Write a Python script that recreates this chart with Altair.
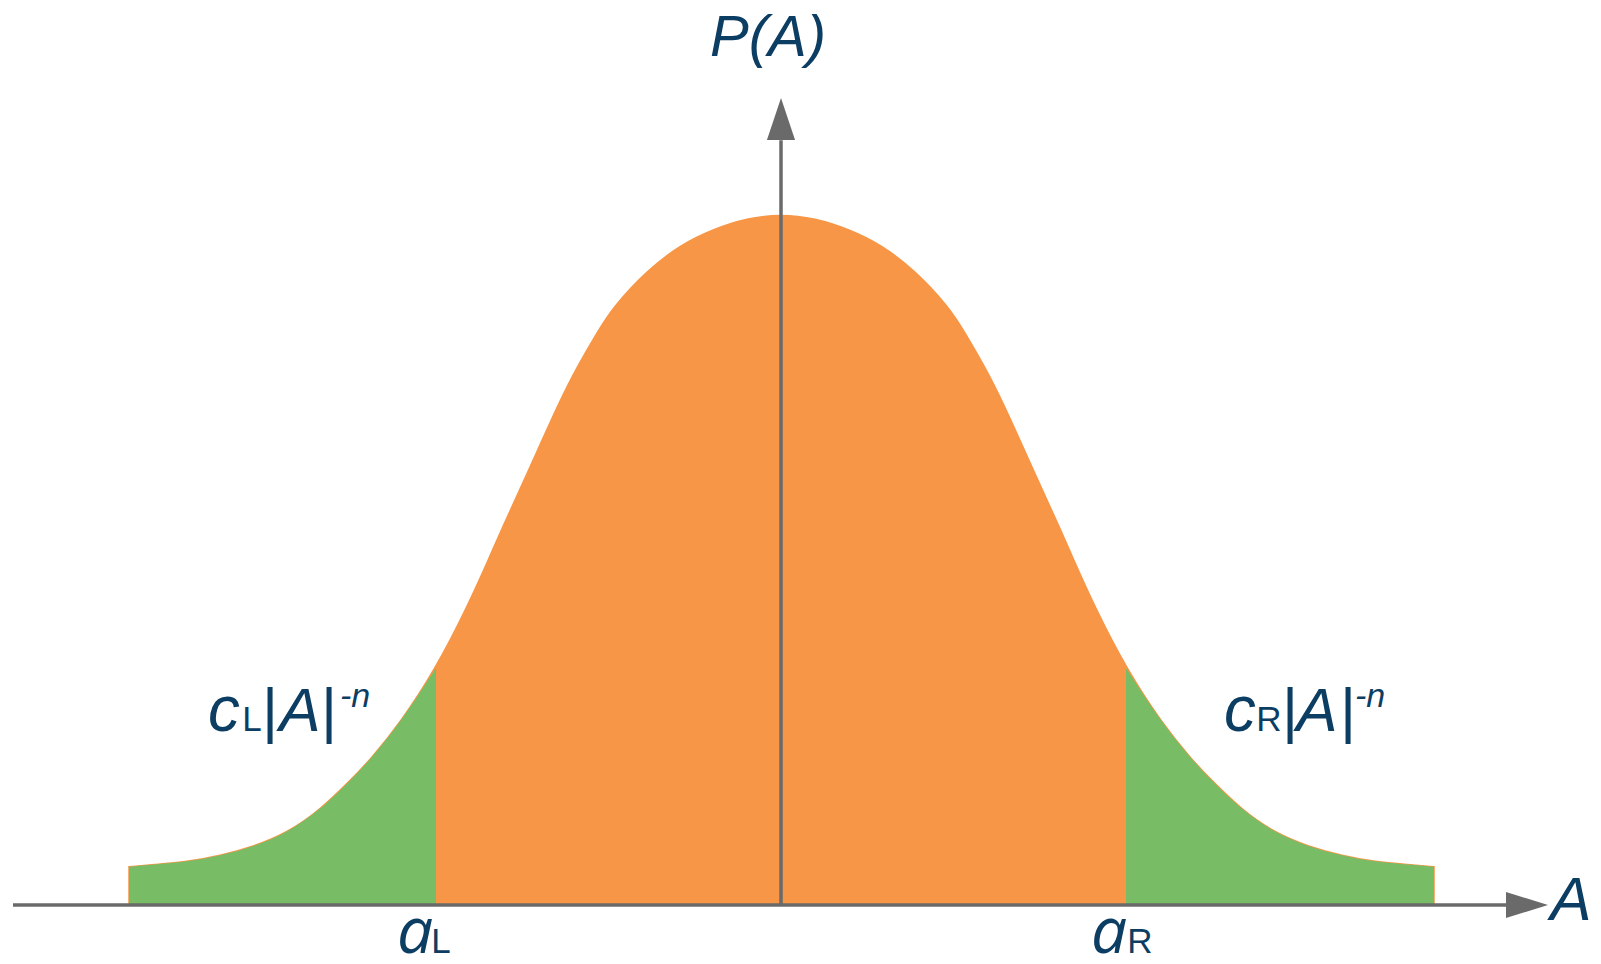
import altair as alt
import pandas as pd

# ---- data (A in arbitrary units, P normalised to peak = 1)
A_vals = [-6.52, -6.28, -5.94, -5.61, -5.28, -4.94, -4.61, -4.28, -4.11, -3.81,
          -3.45, -3.14, -2.92, -2.81, -2.51, -2.21, -2.04, -1.84, -1.68, -1.34,
          -1.01, -0.68, -0.34, 0.0,
          0.34, 0.68, 1.01, 1.34, 1.68, 1.84, 2.04, 2.21, 2.51, 2.81,
          2.92, 3.14, 3.45, 3.81, 4.11, 4.28, 4.61, 4.94, 5.28, 5.61,
          5.94, 6.28, 6.53]
P_vals = [0.054, 0.057, 0.061, 0.070, 0.083, 0.103, 0.136, 0.183, 0.209, 0.262,
          0.342, 0.430, 0.501, 0.538, 0.633, 0.730, 0.778, 0.828, 0.865, 0.918,
          0.955, 0.978, 0.994, 1.000,
          0.994, 0.978, 0.955, 0.918, 0.865, 0.828, 0.778, 0.730, 0.633, 0.538,
          0.501, 0.430, 0.342, 0.262, 0.209, 0.183, 0.136, 0.103, 0.083, 0.070,
          0.061, 0.057, 0.054]
a_L = -3.45
a_R = 3.45

curve = pd.DataFrame({"A": A_vals, "P": P_vals})

# ---- styling
ORANGE = "#F79646"
GREEN = "#79BC66"
GREY = "#6A6A6A"
TEXT = "#0C3D62"
FONT = "Liberation Sans, Arial, sans-serif"
FONT_A = "Open Sans, Liberation Sans, sans-serif"

XS = alt.Scale(domain=[-7.73, 8.12])
YS = alt.Scale(domain=[-0.07536, 1.29855])

def X(f):
    return alt.X(f, type="quantitative", scale=XS, axis=None)

def Y(f):
    return alt.Y(f, type="quantitative", scale=YS, axis=None)

base = alt.Chart(curve)

orange = base.mark_area(interpolate="basis", color=ORANGE, stroke=ORANGE,
                        strokeWidth=1.5).encode(
    x=X("A"), y=Y("P"), y2=alt.datum(0))

green_l = base.transform_filter(alt.datum.A <= a_L).mark_area(
    interpolate="basis", color=GREEN).encode(x=X("A"), y=Y("P"), y2=alt.datum(0))
green_r = base.transform_filter(alt.datum.A >= a_R).mark_area(
    interpolate="basis", color=GREEN).encode(x=X("A"), y=Y("P"), y2=alt.datum(0))

one = pd.DataFrame({"k": [0]})

x_axis = alt.Chart(one).mark_rule(color=GREY, strokeWidth=3.5).encode(
    x=alt.X(datum=-7.68, type="quantitative", scale=XS, axis=None),
    x2=alt.datum(7.3),
    y=alt.Y(datum=-0.00145, type="quantitative", scale=YS, axis=None))
y_axis = alt.Chart(one).mark_rule(color=GREY, strokeWidth=3.5).encode(
    x=alt.X(datum=0, type="quantitative", scale=XS, axis=None),
    y=alt.Y(datum=0, type="quantitative", scale=YS, axis=None),
    y2=alt.datum(1.107))

arrow_r = alt.Chart(one).mark_point(shape="M1,0L-1,-0.62L-1,0.62Z", filled=True,
                                     size=1764, color=GREY, opacity=1, strokeWidth=0).encode(
    x=alt.X(datum=7.46, type="quantitative", scale=XS, axis=None),
    y=alt.Y(datum=-0.00145, type="quantitative", scale=YS, axis=None))
arrow_u = alt.Chart(one).mark_point(shape="M0,-1L0.67,1L-0.67,1Z", filled=True,
                                     size=1764, color=GREY, opacity=1, strokeWidth=0).encode(
    x=alt.X(datum=0, type="quantitative", scale=XS, axis=None),
    y=alt.Y(datum=1.1377, type="quantitative", scale=YS, axis=None))


def label(txt, px, py, size, italic=False, font=FONT):
    return alt.Chart(one).mark_text(
        text=txt, font=font, fontSize=size,
        fontStyle="italic" if italic else "normal", color=TEXT,
        align="center", baseline="alphabetic").encode(
        x=alt.value(px - 8), y=alt.value(py - 8))

labels = [
    label("P(A)", 768, 56, 58, True),
    label("A", 1571, 920, 62, True),
    # left tail
    label("c", 224, 731, 64, True),
    label("L", 252, 731, 35),
    label("|", 270, 731, 62),
    label("A", 300, 731, 62, True),
    label("|", 329, 731, 62),
    label("-n", 355, 707, 34, True),
    # right tail
    label("c", 1240, 731, 64, True),
    label("R", 1269, 731, 35),
    label("|", 1290, 731, 62),
    label("A", 1317, 731, 62, True),
    label("|", 1348, 731, 62),
    label("-n", 1370, 707, 34, True),
    # thresholds
    label("a", 415, 953, 64, True, FONT_A),
    label("L", 441, 953, 35),
    label("a", 1109, 953, 64, True, FONT_A),
    label("R", 1140, 953, 35),
]

chart = alt.layer(orange, green_l, green_r, y_axis, x_axis, arrow_r, arrow_u, *labels).properties(
    width=1585, height=948, padding=0,
    autosize=alt.AutoSizeParams(type="none"),
).configure_view(stroke=None)

chart.save("out.html", embed_options={"renderer": "svg", "actions": False})
